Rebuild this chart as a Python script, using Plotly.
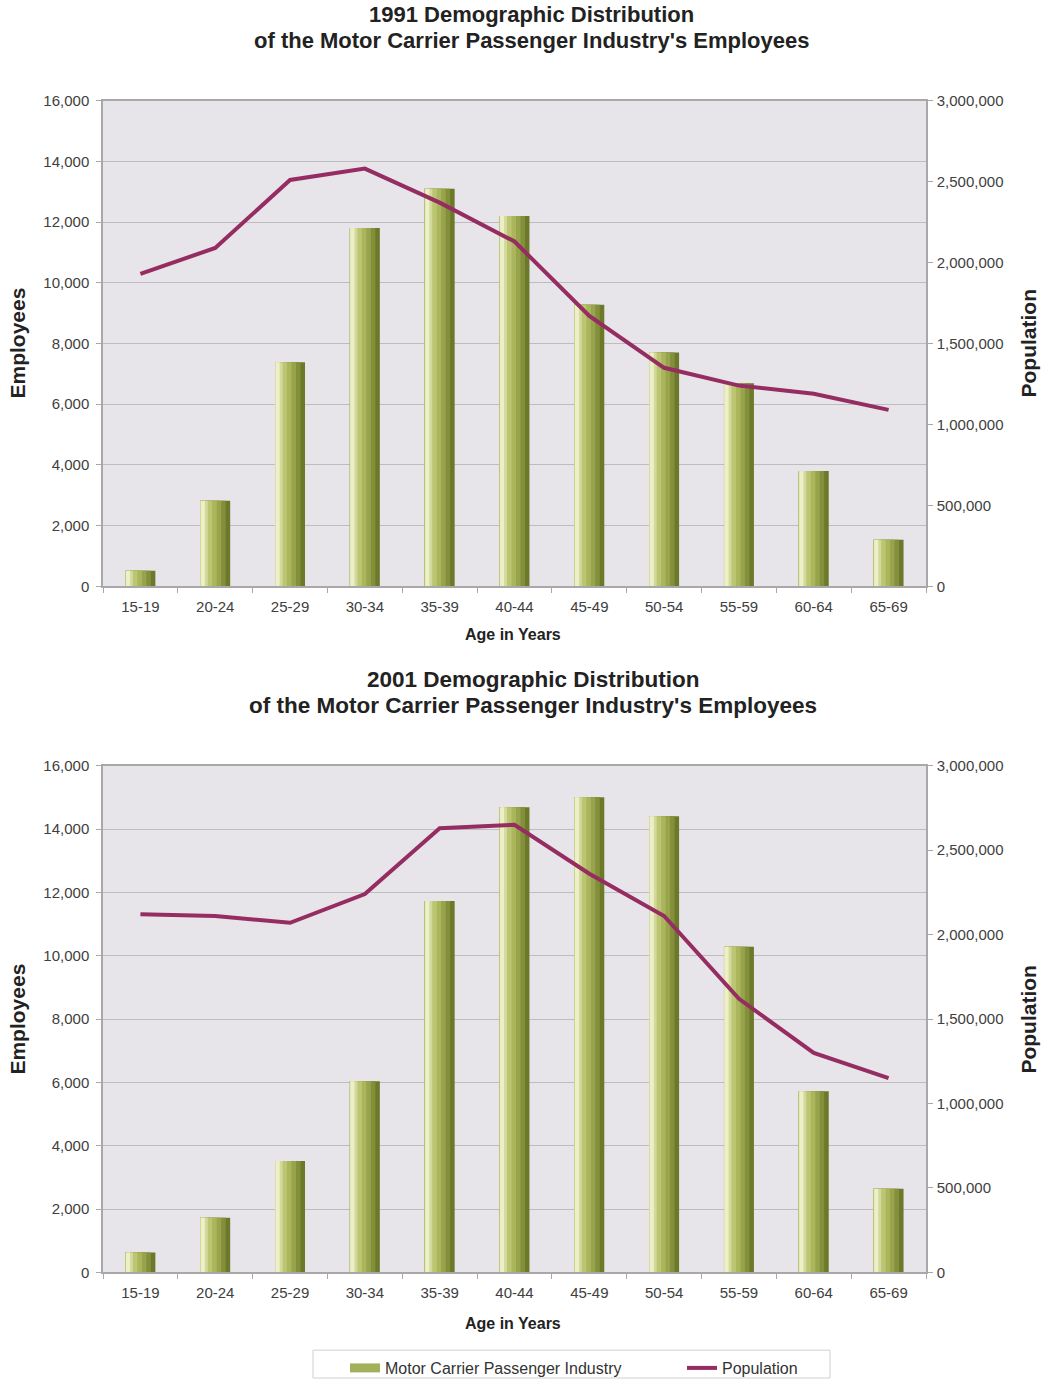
import plotly.graph_objects as go
from plotly.subplots import make_subplots

ages = ["15-19", "20-24", "25-29", "30-34", "35-39", "40-44", "45-49", "50-54", "55-59", "60-64", "65-69"]

emp_1991 = [520, 2820, 7380, 11800, 13100, 12200, 9280, 7700, 6690, 3800, 1540]
pop_1991 = [1930000, 2090000, 2510000, 2580000, 2370000, 2130000, 1670000, 1350000, 1240000, 1190000, 1090000]

emp_2001 = [630, 1730, 3520, 6040, 11730, 14690, 15000, 14400, 10280, 5720, 2640]
pop_2001 = [2120000, 2110000, 2070000, 2240000, 2630000, 2650000, 2360000, 2110000, 1620000, 1300000, 1150000]

title_line1 = ["1991 Demographic Distribution", "2001 Demographic Distribution"]
title_line2 = "of the Motor Carrier Passenger Industry's Employees"

W, H = 1044, 1385


def py(y):
    return 1 - y / H


FONT = "Liberation Sans, Arial, sans-serif"
BAR_NAME = "Motor Carrier Passenger Industry"
LINE_NAME = "Population"
LINE_COLOR = "#952C62"
BAR_LEGEND_COLOR = "#A3B05A"

# gradient layers for bars (bottom -> top), all left-aligned
layers = [
    (0.40, -0.200, "#6C782A"),
    (0.34, -0.200, "#838F3A"),
    (0.28, -0.200, "#98A44B"),
    (0.22, -0.200, "#AAB55C"),
    (0.16, -0.200, "#BCC672"),
    (0.10, -0.200, "#D2D99A"),
    (0.055, -0.193, "#ECEFC8"),
]

fig = make_subplots(rows=2, cols=1, specs=[[{"secondary_y": True}], [{"secondary_y": True}]])

for r, (emp, pop) in enumerate([(emp_1991, pop_1991), (emp_2001, pop_2001)], start=1):
    for i, (w, off, col) in enumerate(layers):
        fig.add_trace(go.Bar(x=ages, y=emp, name=BAR_NAME, width=w, offset=off,
                             marker=dict(color=col, line=dict(width=0)),
                             showlegend=False, hoverinfo="skip" if i else None),
                      row=r, col=1, secondary_y=False)
    fig.add_trace(go.Scatter(x=ages, y=pop, name=LINE_NAME, mode="lines",
                             line=dict(color=LINE_COLOR, width=4), showlegend=(r == 1)),
                  row=r, col=1, secondary_y=True)

# legend-only entry for the bars (wide flat swatch like the original)
fig.add_trace(go.Scatter(x=[None], y=[None], name=BAR_NAME, mode="lines",
                         line=dict(color=BAR_LEGEND_COLOR, width=9), showlegend=True),
              row=1, col=1, secondary_y=False)

xdom = [103 / W, 926 / W]
ydoms = [[py(589), py(101)], [py(1278), py(769)]]

tickfont = dict(family=FONT, size=15, color="#404040")
axcol = "#A8A8A8"

fig.update_layout(
    width=W, height=H,
    margin=dict(l=0, r=0, t=0, b=0),
    template="none",
    paper_bgcolor="white",
    plot_bgcolor="#E7E5EA",
    barmode="overlay",
    font=dict(family=FONT, color="#222"),
    legend=dict(orientation="h", x=345 / W, xanchor="left", y=py(1357), yanchor="top",
                font=dict(family=FONT, size=16, color="#333"), borderwidth=0,
                bgcolor="rgba(0,0,0,0)", entrywidth=292, traceorder="reversed"),
    shapes=[dict(type="rect", xref="paper", yref="paper", x0=313 / W, x1=830 / W, y0=py(1384), y1=py(1356),
                 line=dict(color="#D0D0D0", width=1), fillcolor="rgba(0,0,0,0)", layer="below")],
)

for r in (1, 2):
    fig.update_xaxes(row=r, col=1, domain=xdom, type="category", tickfont=tickfont, showline=True, linecolor=axcol,
                     linewidth=1.5, mirror=True, ticks="outside", ticklen=5, tickcolor=axcol, tickson="boundaries",
                     showgrid=False, automargin=False, ticklabelstandoff=6)
    fig.update_yaxes(row=r, col=1, secondary_y=False, domain=ydoms[r - 1], range=[0, 16000], dtick=2000,
                     tickformat=",d", tickfont=tickfont, showline=True, linecolor=axcol, linewidth=1.5, mirror=True,
                     ticks="outside", ticklen=5, tickcolor=axcol, showgrid=True, gridcolor="#BDBDBF", gridwidth=1,
                     zeroline=False, automargin=False, ticklabelstandoff=4)
    fig.update_yaxes(row=r, col=1, secondary_y=True, range=[0, 3000000], dtick=500000, tickformat=",d",
                     tickfont=tickfont, showline=True, linecolor=axcol, linewidth=1.5, ticks="outside", ticklen=5,
                     tickcolor=axcol, showgrid=False, zeroline=False, automargin=False, ticklabelstandoff=1)

ann = []
axt_font = dict(family=FONT, size=21, color="#222")
for k, (l1, l2, tx, ageY, empY, tsize) in enumerate([(15, 41, 531, 637, 345, 22), (682, 709, 533, 1329, 1024, 22.5)]):
    title_font = dict(family=FONT, size=tsize, color="#222")
    ann.append(dict(text="<b>" + title_line1[k] + "</b>", x=tx / W, y=py(l1), xref="paper", yref="paper",
                    xanchor="center", yanchor="middle", showarrow=False, font=title_font))
    ann.append(dict(text="<b>" + title_line2 + "</b>", x=tx / W, y=py(l2), xref="paper", yref="paper",
                    xanchor="center", yanchor="middle", showarrow=False, font=title_font))
    ann.append(dict(text="<b>Age in Years</b>", x=513 / W, y=py(ageY), xref="paper", yref="paper",
                    xanchor="center", yanchor="middle", showarrow=False, font=dict(family=FONT, size=16, color="#222")))
    ann.append(dict(text="<b>Employees</b>", x=18 / W, y=py(empY), xref="paper", yref="paper", textangle=-90,
                    xanchor="center", yanchor="middle", showarrow=False, font=axt_font))
    ann.append(dict(text="<b>Population</b>", x=1029 / W, y=py(empY), xref="paper", yref="paper", textangle=-90,
                    xanchor="center", yanchor="middle", showarrow=False, font=axt_font))
fig.update_layout(annotations=ann)

fig.write_html("out.html")
